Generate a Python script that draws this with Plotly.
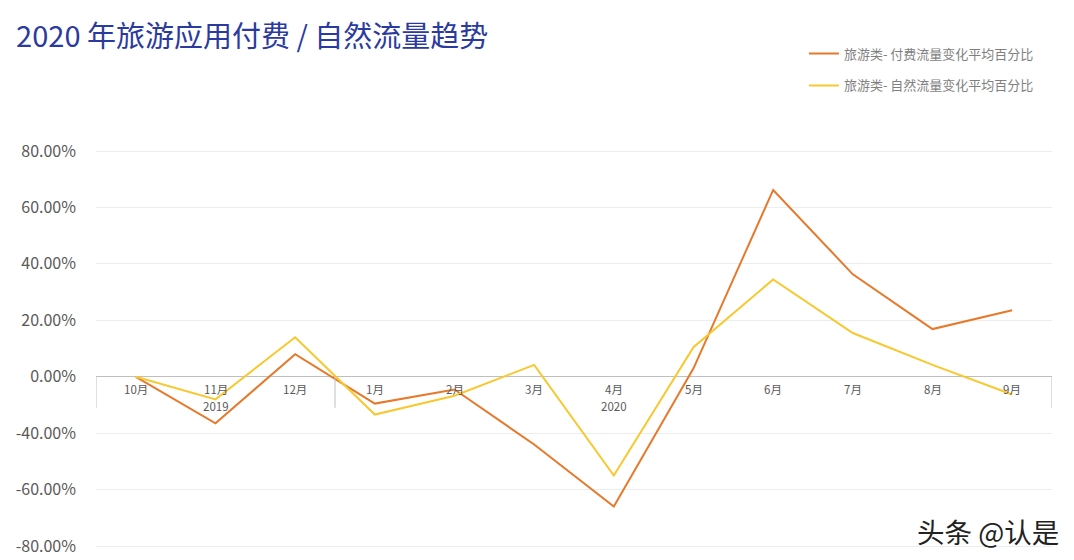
import plotly.graph_objects as go

months = ["10月", "11月", "12月", "1月", "2月", "3月", "4月", "5月", "6月", "7月", "8月", "9月"]
years = ["2019", "2020"]
year_label_months = ["11月", "4月"]
group_bounds = [-0.5, 2.5, 11.5]

paid_name = "旅游类- 付费流量变化平均百分比"
natural_name = "旅游类- 自然流量变化平均百分比"
paid = [0, -16.5, 8, -9.5, -4.5, -24, -46, 3, 66.2, 36.3, 16.9, 23.6]
natural = [0, -8, 14, -13.4, -6.7, 4.2, -35, 10.5, 34.5, 15.5, 4.2, -6.3]

y_tickvals = [-60, -40, -20, 0, 20, 40, 60, 80]
y_ticktext = ["-80.00%", "-60.00%", "-40.00%", "0.00%", "20.00%", "40.00%", "60.00%", "80.00%"]

title_text = "2020 年旅游应用付费 / 自然流量趋势"
watermark = "头条 @认是"

FONT = "Noto Sans CJK SC"
ORANGE = "#E8782A"
GOLD = "#F9C72E"

fig = go.Figure()
fig.add_trace(go.Scatter(x=months, y=paid, mode="lines", name=paid_name,
                         line=dict(color=ORANGE, width=2), legendgroup="a"))
fig.add_trace(go.Scatter(x=months, y=natural, mode="lines", name=natural_name,
                         line=dict(color=GOLD, width=2), legendgroup="b"))

annotations = []
for m in months:
    annotations.append(dict(x=m, y=0, xref="x", yref="y", text=m, showarrow=False,
                            yshift=-12, font=dict(family=FONT, size=11.5, color="#595959")))
for yr, m in zip(years, year_label_months):
    annotations.append(dict(x=m, y=0, xref="x", yref="y", text=yr, showarrow=False,
                            yshift=-29, font=dict(family=FONT, size=11.5, color="#595959")))
annotations.append(dict(x=1.0095, y=0.0556, xref="paper", yref="paper", text=watermark,
                        showarrow=False, xanchor="right", yanchor="middle",
                        font=dict(family=FONT, size=27.5, color="#222222")))

shapes = []
for b in group_bounds:
    shapes.append(dict(type="line", xref="x", yref="y", ysizemode="pixel", yanchor=0,
                       x0=b, x1=b, y0=0, y1=-31, line=dict(color="#BFBFBF", width=1)))

fig.update_layout(
    width=1074, height=560,
    paper_bgcolor="#FFFFFF", plot_bgcolor="#FFFFFF",
    margin=dict(l=96, r=22, t=140, b=6, autoexpand=False),
    title=dict(text=title_text, x=0.015, xanchor="left", y=0.935, yanchor="middle",
               font=dict(family=FONT, size=29, color="#2B3A9E")),
    xaxis=dict(type="category", range=[-0.5, 11.5], showticklabels=False,
               showgrid=False, zeroline=False, showline=False, ticks="", automargin=False),
    yaxis=dict(range=[-62.8, 83.9], tickvals=y_tickvals, ticktext=y_ticktext,
               showgrid=True, gridcolor="#EDEDED", gridwidth=1,
               zeroline=True, zerolinecolor="#BFBFBF", zerolinewidth=1,
               showline=False, ticks="", ticklabelstandoff=19, automargin=False,
               tickfont=dict(family=FONT, size=16, color="#595959")),
    legend=dict(x=0.7405, y=1.245, xanchor="left", yanchor="top",
                traceorder="grouped", tracegroupgap=12,
                font=dict(family=FONT, size=13, color="#7F7F7F"),
                bgcolor="rgba(0,0,0,0)"),
    showlegend=True,
    annotations=annotations,
    shapes=shapes,
)

fig.write_html("out.html", config={"displayModeBar": False},
               post_script="document.body.style.margin='0';")
